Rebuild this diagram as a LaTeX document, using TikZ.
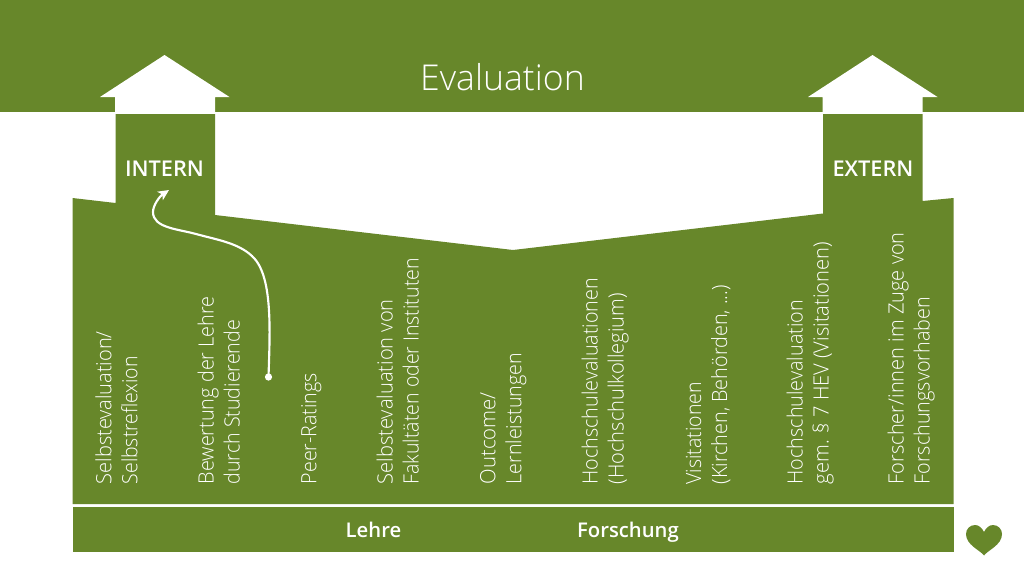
\documentclass[tikz,border=0pt]{standalone}
\usepackage{graphicx}
\usepackage{fontspec}
\setmainfont{Open Sans Light}
\newfontfamily\boldf{Open Sans Semibold}
\usetikzlibrary{arrows.meta}
\definecolor{grn}{HTML}{67872A}
\newcommand\fitw[2]{\resizebox{\dimexpr#1pt*3/4\relax}{\height}{#2}}
\tikzset{
  shapefill/.style={fill=grn,draw=none},
  vlabel/.style={rotate=90,anchor=south west,inner sep=0pt,text depth=0pt,text=white,font=\fontsize{15.8}{19.5}\selectfont,align=left},
  blabel/.style={text=white,inner sep=0pt,anchor=base,font=\boldf\fontsize{15.2}{18}\selectfont},
  hlabel/.style={blabel,font=\boldf\fontsize{16.3}{18}\selectfont},
}
\begin{document}
\begin{tikzpicture}[x=0.75pt,y=-0.75pt]
\useasboundingbox (0,0) rectangle (1024,576);
\fill[white] (0,0) rectangle (1024,576);
\fill[shapefill] (0,0) rectangle (1024,112);
\fill[white] (164.5,55) -- (229.5,97) -- (215,97) -- (215,113) -- (115,113) -- (115,97) -- (100,97) -- cycle;
\fill[white] (872.5,55) -- (937.5,97) -- (922.5,97) -- (922.5,113) -- (822.5,113) -- (822.5,97) -- (808,97) -- cycle;
\fill[shapefill] (72.5,198) -- (115.5,203) -- (115.5,114) -- (215,114) -- (215,215) -- (513,250) -- (823,213.5) -- (823,114) -- (922.7,114) -- (922.7,201) -- (953.5,198) -- (953.5,504) -- (72.5,504) -- cycle;
\fill[shapefill] (72.5,507) rectangle (953.5,551.5);
\fill[shapefill] (984,555.5) .. controls (980,550) and (966,545) .. (966,534) .. controls (966,529) and (970,525) .. (975,525) .. controls (979,525) and (982,528) .. (984,532) .. controls (986,528) and (989,525) .. (993,525) .. controls (998,525) and (1002,529) .. (1002,534) .. controls (1002,545) and (988,550) .. (984,555.5) -- cycle;
\node[text=white,inner sep=0pt,font=\fontsize{26.7}{30}\selectfont] (title) at (502.5,77) {Evaluation};
\node[hlabel] (intern) at (164.5,176.5) {INTERN};
\node[hlabel] (extern) at (873,176.5) {EXTERN};
\node[blabel] (lehre) at (373.5,537) {Lehre};
\node[blabel] (forschung) at (628,537) {Forschung};
\node[vlabel] (l1) at (137.7,484.5) {\fitw{153}{Selbstevaluation/}\\\fitw{128}{Selbstreflexion}};
\node[vlabel] (l2) at (240,484.5) {\fitw{188}{Bewertung der Lehre}\\\fitw{164}{durch Studierende}};
\node[vlabel] (l3) at (316.7,484.5) {\fitw{111}{Peer-Ratings}};
\node[vlabel] (l4) at (419,484.5) {\fitw{185}{Selbstevaluation von}\\\fitw{226}{Fakultäten oder Instituten}};
\node[vlabel] (l5) at (521.7,484.5) {\fitw{92}{Outcome/}\\\fitw{131}{Lernleistungen}};
\node[vlabel] (l6) at (624,484.5) {\fitw{206}{Hochschulevaluationen}\\\fitw{191}{(Hochschulkollegium)}};
\node[vlabel] (l7) at (727.5,484.5) {\fitw{102}{Visitationen}\\\fitw{199}{(Kirchen, Behörden, ...)}};
\node[vlabel] (l8) at (829,484.5) {\fitw{184}{Hochschulevaluation}\\\fitw{242}{gem. § 7 HEV (Visitationen)}};
\node[vlabel] (l9) at (930,484.5) {\fitw{252}{Forscher/innen im Zuge von}\\\fitw{187}{Forschungsvorhaben}};
\coordinate (cs) at (268.5,377);
\coordinate (ce) at (169,190);
\fill[white] (cs) circle (3.6);
\draw[white,line width=1.6pt,-{Stealth[length=8pt,width=7.5pt,inset=2pt]}] (cs) .. controls (270,330) and (273,275) .. (252,256) .. controls (238,243) and (218,240) .. (196,234) .. controls (178,229) and (153,228) .. (153,212) .. controls (153,205) and (160,196) .. (ce);
\end{tikzpicture}
\end{document}
